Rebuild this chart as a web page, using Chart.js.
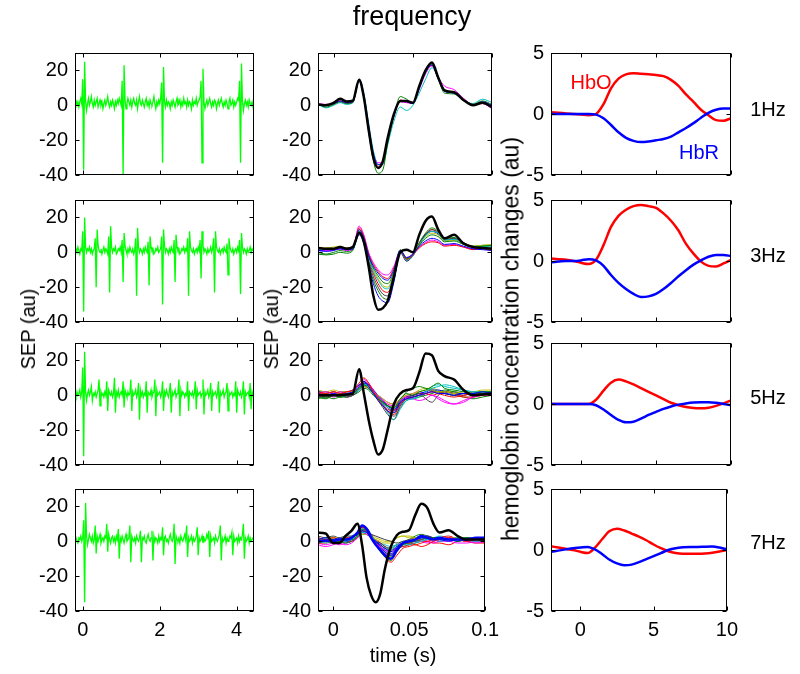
<!DOCTYPE html>
<html>
<head>
<meta charset="utf-8">
<script src="https://cdn.jsdelivr.net/npm/chart.js@4.4.0/dist/chart.umd.min.js"></script>
<style>
  body { margin: 0; background: #fff; font-family: "Liberation Sans", Arial, sans-serif; }
  #fig { position: relative; width: 800px; height: 674px; overflow: hidden; background: #fff; }
  .pan { position: absolute; }
  .txt { position: absolute; white-space: nowrap; color: #000; line-height: 1; }
</style>
</head>
<body>
<div id="fig"></div>
<script>
"use strict";

// ---- raw SEP recordings (first column), one sample every 25 ms from -0.2 s ----
var rawStart = -0.2, rawStep = 0.025;
var raw1Hz = [
  1, 3, 0, 2, -1, 2, 4, 1, 15, -37,
  25, 2, -3, 1, 4, 0, 2, 5, 1, -1,
  3, 0, 2, 4, -1, 1, 3, 0, 2, -2,
  1, 3, 0, 2, 5, 1, -1, 2, 0, 3,
  1, -2, 2, 0, 3, 1, 4, 2, 0, 14,
  -40, 23, 3, -2, 1, 4, 2, 0, 3, -1,
  2, 4, 1, 0, 3, -2, 2, 5, 1, 0,
  3, 1, -1, 2, 4, 0, 2, -1, 3, 1,
  0, 2, 5, 1, -2, 2, 0, 3, 1, 4,
  13, -33, 22, 2, -1, 3, 0, 2, 1, -2,
  2, 0, 3, 1, -1, 2, 4, 0, 1, 3,
  -1, 2, 0, 4, 1, 2, -1, 3, 0, 2,
  1, -2, 3, 0, 2, 1, 4, 0, 2, 3,
  5, 14, -33, 21, 2, -2, 1, 3, 0, 2,
  4, 1, -1, 2, 0, 3, 2, -2, 1, 3,
  0, 2, 4, 1, -1, 2, 0, 3, 1, -2,
  2, 4, 0, 1, 3, -1, 2, 0, 2, 4,
  3, 14, -33, 24, 2, -3, 1, 3, 0, 2,
  -1, 3, 1, 0, 2, -1, 1
];
var raw3Hz = [
  1, 2, 0, 3, 1, -1, 2, 1, 12, -34,
  20, 3, 0, 2, 1, 3, 0, 2, -1, 1,
  2, 8, -20, 13, 4, 1, 0, 2, -1, 1,
  3, 0, 2, 1, -1, 9, -23, 15, 3, 0,
  2, 1, 3, -1, 0, 2, 1, 3, 0, 7,
  -17, 11, 4, 1, -1, 2, 0, 3, 1, 0,
  2, -1, 1, 8, -25, 14, 3, 0, 2, 1,
  -1, 2, 0, 3, 1, 0, 6, -19, 9, 3,
  1, 2, -1, 0, 2, 1, 3, 0, 1, 2,
  9, -30, 13, 4, 0, 2, 1, -1, 2, 0,
  3, 1, 0, 7, -17, 10, 3, 1, 2, -1,
  0, 2, 1, 3, 0, 2, 1, 8, -25, 12,
  3, 1, 0, 2, -1, 1, 2, 0, 3, 1,
  7, -15, 12, 4, 0, 2, 1, -1, 2, 0,
  1, 3, 0, 2, 8, -23, 12, 3, 1, 0,
  2, -1, 1, 2, 0, 3, 1, 0, 5, -13,
  8, 3, 1, 0, 2, -1, 1, 2, 0, 3,
  1, 7, -24, 11, 3, 0, 2, 1, -1, 2,
  0, 1, 3, 0, 2, 1, 0
];
var raw5Hz = [
  1, -1, 2, 0, 1, 3, -1, 2, 16, -35,
  25, 2, -3, 1, 3, 0, 2, 5, -3, 1,
  0, 2, -1, 1, 3, 9, -6, 2, 0, 1,
  -1, 2, 0, 8, -9, 3, 1, 0, 2, -1,
  1, 10, -10, 2, 0, 3, -1, 1, 2, 0,
  8, -7, 3, 1, -1, 2, 0, 1, 9, -9,
  2, 0, 1, 3, -1, 1, 7, -14, 3, 0,
  2, -1, 1, 0, 8, -10, 2, 1, 0, 3,
  -1, 1, 2, 9, -12, 3, 0, 1, 2, -1,
  1, 8, -9, 2, 0, 3, 1, -1, 2, 7,
  -10, 2, 0, 1, 3, -1, 1, 2, 9, -12,
  3, 0, 2, 1, -1, 1, 0, 8, -9, 2,
  1, 0, 2, -1, 1, 8, -8, 3, 0, 1,
  2, -1, 1, 9, -11, 2, 0, 1, 3, -1,
  1, 7, -9, 2, 0, 1, 2, -1, 1, 8,
  -10, 2, 0, 1, 3, -1, 1, 2, 7, -9,
  2, 0, 1, 2, -1, 1, 0, 8, -10, 3,
  1, 0, 2, -1, 1, 8, -11, 2, 0, 1,
  2, -1, 7, -8, 2, 0, 1
];
var raw7Hz = [
  1, 2, 0, -1, 2, 1, 3, 0, 2, 12,
  -35, 22, 3, -2, 1, 4, 2, 0, 3, -1,
  1, 9, -7, 3, 0, 2, 4, -1, 1, 2,
  0, 3, 2, 10, -6, 4, 1, -1, 2, 3,
  0, 2, -1, 3, 1, 7, -10, 2, 0, 3,
  1, -1, 2, 4, 0, 1, 2, 9, -12, 3,
  1, 0, 2, -1, 3, 1, 0, 2, 6, -12,
  2, 1, 3, 0, -1, 2, 4, 1, 0, 2,
  6, -11, 3, 0, 2, 1, -1, 3, 0, 2,
  1, 8, -8, 2, 3, 0, 1, -1, 2, 4,
  1, 0, 2, 10, -13, 3, 1, 0, 2, -1,
  3, 1, 0, 2, 4, 1, 9, -9, 2, 0,
  1, 3, -1, 2, 0, 1, 3, 8, -8, 2,
  0, 1, 3, -1, 2, 0, 1, 4, 2, 6,
  -9, 3, 0, 1, 2, -1, 3, 1, 0, 2,
  4, 9, -11, 2, 0, 1, 3, -1, 2, 0,
  1, 3, 2, 5, -8, 3, 0, 1, 2, -1,
  3, 0, 2, 1, 4, 10, -10, 2, 0, 1,
  3, -1, 2, 0, 1, 2, 1
];

// ---- averaged SEPs (second column) ----
var sepTime = [-0.01, -0.005, 0, 0.004, 0.008, 0.012, 0.016, 0.019, 0.022, 0.025, 0.028, 0.031, 0.034,
               0.038, 0.042, 0.046, 0.050, 0.054, 0.058, 0.062, 0.066, 0.070, 0.076, 0.082, 0.088, 0.094, 0.1];

var avg1Black = [0.5, 0, 1.5, 3.7, 2.2, 2.7, 14.7, 4.5, -14, -30, -36, -32, -19, -5, 2.5, 2.5, 1.5, 11, 20, 24.5, 16, 8.5, 7.5, 3, 0, 1.5, -1];
var avg1Trials = [
  [0, 0, 1, 2.5, 1.5, 2, 14, 5, -12, -28, -34, -32, -20, -6, 2.5, 2, 1, 10, 19, 23, 15, 8, 7, 3, 0, 2, 0],
  [1, -1, 0.5, 2, 1, 1.5, 14, 4, -15, -32, -39, -37, -22, -6, 5, 3.5, 1, 10, 19, 23.5, 15, 7, 6.5, 2.5, 0.5, 2.5, 0.5],
  [0, 0.5, 1, 2.5, 1.5, 2, 14, 5, -13, -29, -35, -33, -20, -6, 3, 2, 1, 10, 19.5, 23, 15.5, 8, 7.5, 3, 0.5, 1, -0.5],
  [0.5, -1.5, 0, 1.5, 0.5, 1.5, 15, 7, -10, -26, -34, -34, -23, -9, -1, -3, 0, 7, 15, 21.5, 16, 9, 7, 3, 1, 3.5, 1.5],
  [1, 0.5, 1, 2, 1, 2, 14.5, 6, -11, -27, -33, -33, -21, -6, 2, 1.5, 1, 9, 18, 22.5, 16, 11, 9, 4, 0.5, 1, -2]
];

var avg3Black = [2.5, 2, 2, 3, 2, 3, 11, 6, -8, -25, -33, -32, -28, -14, 0, 1.5, 0, 10, 18, 20.5, 13, 8, 10, 5, 3, 2.5, 2];
var avg3Trials = [
  [1, 0.5, 1, 2, 1.5, 2, 13, 8, -2, -8, -12, -15, -16, -10, 1, -3, -1, 3.5, 6.5, 8, 7, 4.5, 5, 3.5, 2, 1.5, 1],
  [-1, -1.5, -1, 0, -0.5, 1, 12, 8, -2, -9, -13.5, -17, -18, -11, 1.5, -3.5, -1, 4, 8, 10, 9, 6, 6.5, 4.5, 3, 3.5, 4],
  [3, 2, 2, 3, 2, 2.5, 14, 9, -1, -7, -11, -14, -15, -9, 0.5, -4, -1.5, 2.5, 5, 6, 5.5, 3.5, 4, 3, 1.5, 2, 1],
  [2, 1.5, 2, 3, 2, 2.5, 12, 7, -3, -11, -16, -20, -21, -13, 0.5, -4.5, -2, 4, 9.5, 12, 11, 7, 7.5, 5, 3, 3.5, 3],
  [2, 1, 1.5, 2, 1, 2, 15, 10, 0, -6, -10, -12.5, -13, -8, 1, -3, -1, 3, 5.5, 7, 6, 4, 4.5, 3, 2, 2.5, 2],
  [3, 2.5, 3, 3.5, 2.5, 3, 13, 8, -3, -10, -15, -19, -20, -12, 1, -4, -1, 4.5, 9, 11, 10, 6.5, 7, 5, 3.5, 4, 4.5],
  [2.5, 2, 2, 3, 2.5, 3, 12, 6, -5, -14, -20, -24, -25, -15, 0, -5, -2, 5, 10, 13, 11, 7, 8, 5, 3, 3, 3],
  [1, 1, 1.5, 2, 1.5, 2, 10, 5, -7, -18, -25, -28, -29, -17, 0, -5, -2, 4.5, 10, 12, 10.5, 7, 7.5, 5, 3, 2.5, 2],
  [0, -1, 0, 1, 0.5, 1.5, 11, 6, -6, -16, -22, -26, -27, -16, 1, -4, -1, 5.5, 11, 14, 12, 8, 8.5, 5.5, 3.5, 4, 4],
  [1.5, 1, 1.5, 2.5, 2, 2.5, 13, 8, -4, -12, -18, -22, -23, -14, 1, -4, -1.5, 5, 10.5, 13, 11.5, 7.5, 8, 5.5, 3, 2.5, 2]
];

var avg5Black = [0, 0, 0, 0, 0.5, 1, 15, 1, -14, -26, -34, -31, -20, -5, 1, 3, 4, 13, 24, 23, 14, 11, 9, 3, 0, 0.5, 1];
var avg5Trials = [
  [1, 0, 1, 0, 1, 2, 5, 8, 5, 1, -3, -6, -9, -10, -4, -2, -1, 0, 1, 2, 1, 1, 0, 1, 1, 2, 1],
  [-1, -2, 0, -1, 0, 1, 4, 6, 4, 1, -2, -4, -6, -7, -2, 1, 0, 2, 3, 5, 7, 4, 3, 2, 1, 2, 2],
  [2, 1, 2, 1, 2, 3, 7, 10, 7, 2, -2, -6, -9, -11, -5, -2, -1, 0, 1, 2, 1, 0, -1, 0, 1, 0, 1],
  [0, 1, 0, 1, 0, 1, 3, 6, 5, 1, -2, -5, -10, -14, -8, -3, -2, -1, 2, 4, 5, 6, 5, 3, 2, 2, 2],
  [1, 2, 1, 2, 1, 2, 5, 9, 7, 3, -1, -3, -5, -6, -3, -1, -2, -3, -2, 0, -2, -4, -5, -3, -1, 0, 1],
  [3, 2, 3, 2, 2, 2, 4, 5, 4, 2, 0, -2, -4, -5, -2, 0, 1, 2, 3, 3, 2, 2, 1, 2, 2, 3, 3],
  [0, -1, 0, 0, -1, 0, 3, 5, 4, 1, -3, -7, -11, -14, -6, -2, 0, 1, -2, -4, 0, 2, 1, 0, 1, 1, 0],
  [2, 2, 1, 2, 2, 3, 6, 7, 6, 3, 0, -3, -6, -8, -4, -1, 0, 1, 2, 3, 3, 2, 1, 1, 2, 1, 2],
  [-2, -1, -2, -1, -1, 0, 2, 4, 3, 0, -2, -4, -6, -8, -3, 2, 4, 5, 4, 3, 2, 3, 2, 1, 2, 2, 1],
  [1, 1, 2, 1, 2, 3, 6, 8, 6, 2, -1, -5, -8, -9, -4, -1, 0, 1, 1, 0, 1, 2, 1, -1, -1, 0, 1],
  [2, 1, 2, 1, 1, 2, 4, 6, 6, 3, 0, -4, -7, -10, -6, -3, -2, 0, 2, 5, 6, 5, 4, 3, 2, 1, 1],
  [-1, 0, -1, 0, -1, 0, 3, 5, 4, 2, 0, -2, -4, -5, -2, 0, 1, 2, 1, 0, -1, -3, -5, -4, -1, 0, 0],
  [1, 2, 1, 1, 2, 2, 5, 7, 5, 2, -1, -3, -5, -6, -2, 0, 1, 3, 4, 4, 3, 2, 2, 1, 2, 2, 2],
  [0, 1, 0, 1, 0, 1, 4, 6, 5, 2, -2, -5, -9, -12, -7, -3, -1, 0, 1, 2, 2, 1, 0, 1, 0, 1, 1],
  [1, 0, 1, 1, 0, 1, 4, 7, 6, 3, -1, -4, -7, -9, -5, -2, -1, 0, 2, 3, 2, 1, 2, 1, 1, 2, 2],
  [0, -1, 0, -1, 0, 1, 3, 6, 5, 2, -1, -4, -6, -7, -3, -1, -2, -1, 0, 1, 2, 1, 0, -1, -2, -1, 0]
];

var avg7Black = [5, 4.5, -1, -1, 3, 6, 10, -2, -21, -31, -35, -30, -16, -3, 3.6, 5.5, 6.5, 15, 21.5, 19, 10, 5, 6.4, 3, 1, 1, 1];
var avg7Mean = [0, 0.5, 0, 1, 1, 2, 5, 9, 7, 2, -2, -5, -8, -10, -5, -1, 0, 1, 3, 2, 1, 2, 1, 1, 1, 2, 2];
var avg7Trials = [
  [1, 2, 1, 2, 1, 2, 4, 6, 5, 2, 0, -2, -4, -6, -3, -1, 0, 1, 2, 2, 1, 1, 0, 1, 1, 1, 2],
  [-1, 0, -1, 0, -1, 0, 3, 7, 6, 2, -2, -6, -9, -11, -6, -2, -1, 0, 1, 2, 2, 1, 1, 0, 1, 1, 1],
  [2, 1, 2, 1, 2, 2, 5, 8, 6, 2, -1, -5, -9, -12, -8, -4, -3, -2, -3, -2, 0, 1, 2, 1, 0, 1, 1],
  [0, -1, 0, -1, 0, 1, 3, 5, 5, 3, 0, -2, -4, -5, -3, -2, -2, -1, 0, 1, 1, 0, 1, 2, 1, 0, 1],
  [-2, -3, -2, -1, -2, -1, 2, 5, 4, 2, -1, -3, -5, -6, -3, -1, 0, 1, 0, -1, 0, 1, 2, 1, 0, -1, 0],
  [2, 1, 2, 2, 1, 2, 3, 4, 4, 3, 1, 0, -1, -1, 2, 3, 2, 2, 3, 2, 1, 1, 2, 2, 1, 1, 2],
  [3, 2, 3, 2, 3, 3, 4, 5, 5, 4, 3, 2, 1, 0, -1, 0, 1, 2, 3, 3, 2, 2, 1, 2, 1, 2, 2],
  [0, 1, 0, 1, 0, 1, 5, 9, 8, 4, 0, -3, -6, -8, -4, -1, 0, 1, 2, 3, 2, 1, 1, 0, 1, 1, 0],
  [1, 0, 1, 1, 0, 1, 3, 6, 5, 2, -1, -3, -6, -8, -4, -1, 1, 3, 4, 3, 2, 2, 1, 2, 2, 1, 1],
  [-1, -1, 0, -1, 0, 0, 2, 5, 5, 3, 0, -2, -4, -5, -3, -2, -1, -2, -1, 0, 1, 2, 3, 1, 0, -1, -1],
  [1, 2, 1, 2, 2, 3, 5, 7, 6, 3, 0, -2, -4, -4, -2, 0, 0, 1, 2, 1, 1, 1, 2, 2, 1, 2, 1],
  [-1, -2, -1, -2, -1, 0, 3, 6, 5, 2, -1, -4, -7, -8, -4, -1, -1, 0, 1, 0, -1, 0, 0, -1, -1, 0, -1],
  [1, 2, 2, 1, 2, 2, 3, 5, 5, 4, 2, 1, 0, 0, 2, 3, 3, 2, 1, 2, 2, 1, 2, 1, 0, 1, 1],
  [2, 1, 2, 1, 2, 2, 4, 5, 4, 2, 0, -1, -3, -4, -2, -1, 0, 1, 1, 2, 1, 2, 1, 1, 2, 1, 1],
  [1, 0, 1, 0, 1, 2, 4, 7, 6, 3, 0, -3, -5, -7, -4, -1, 0, 0, 1, 2, 1, 0, 1, 1, 2, 2, 2],
  [0, 1, 0, 1, 1, 1, 4, 8, 7, 3, -1, -4, -7, -9, -5, -2, 0, 1, 2, 1, 1, 2, 1, 2, 1, 1, 2],
  [1, 0, 1, 0, 0, 1, 3, 6, 6, 3, 1, -1, -3, -5, -4, -3, -2, -1, 0, 0, -1, -1, -2, 0, 1, 1, 0],
  [-1, 0, -1, 0, -1, 0, 2, 4, 4, 2, 0, -1, -2, -3, -2, -3, -2, -1, 0, 1, 2, 3, 2, 1, 0, 0, 1]
];

// ---- hemoglobin responses (third column) ----
var hbTime = [-2, -1.5, -1, -0.5, 0, 0.5, 1, 1.5, 2, 2.5, 3, 3.5, 4, 4.5, 5, 5.5, 6, 6.5, 7, 7.5, 8, 8.5, 9, 9.5, 10];
var hbo1 = [0.15, 0.1, 0.05, 0, -0.05, -0.1, 0, 0.8, 2.1, 2.9, 3.25, 3.35, 3.3, 3.25, 3.2, 3.1, 2.8, 2.3, 1.6, 1.0, 0.35, -0.1, -0.5, -0.55, -0.35];
var hbr1 = [0, 0, 0, 0, 0, 0, -0.05, -0.35, -0.9, -1.5, -1.95, -2.2, -2.3, -2.25, -2.15, -2.05, -1.85, -1.5, -1.15, -0.75, -0.3, 0.1, 0.35, 0.45, 0.45];
var hbo3 = [0.2, 0.15, 0.1, 0, -0.15, -0.25, 0.1, 1.3, 2.8, 3.7, 4.2, 4.5, 4.6, 4.5, 4.35, 3.9, 3.3, 2.5, 1.4, 0.6, -0.05, -0.4, -0.45, -0.2, 0.1];
var hbr3 = [-0.1, -0.05, 0, 0, 0.05, 0.15, 0.05, -0.4, -1.15, -1.8, -2.3, -2.7, -2.95, -2.9, -2.7, -2.3, -1.8, -1.25, -0.75, -0.3, 0.05, 0.35, 0.5, 0.5, 0.4];
var hbo5 = [0, 0, 0, 0, 0, 0, 0.35, 1.1, 1.75, 2.0, 1.85, 1.6, 1.3, 1.0, 0.7, 0.4, 0.1, -0.1, -0.25, -0.33, -0.35, -0.3, -0.15, 0.05, 0.3];
var hbr5 = [0, 0, 0, 0, 0, 0, -0.1, -0.45, -0.9, -1.3, -1.5, -1.45, -1.2, -0.9, -0.65, -0.4, -0.2, -0.05, 0.05, 0.12, 0.15, 0.15, 0.1, 0, -0.1];
var hbo7 = [0.3, 0.2, 0.1, 0, -0.15, -0.25, 0.2, 0.9, 1.55, 1.75, 1.6, 1.35, 1.1, 0.8, 0.45, 0.15, -0.1, -0.25, -0.3, -0.3, -0.3, -0.28, -0.22, -0.12, 0];
var hbr7 = [-0.15, -0.05, 0.05, 0.15, 0.2, 0.25, 0.05, -0.35, -0.8, -1.1, -1.25, -1.2, -1.0, -0.75, -0.5, -0.25, 0, 0.15, 0.22, 0.25, 0.25, 0.27, 0.28, 0.2, 0.05];

// ---- axes ----
var rawRange = [-0.2, 4.45], sepRange = [-0.01, 0.1], hbRange = [-2, 10];
var rawTicks = [0, 2, 4], sepTicks = [0, 0.05, 0.1], hbTicks = [0, 5, 10];
var sepY = [-40, 30], sepYTicks = [-40, -20, 0, 20];
var hbY = [-5, 5], hbYTicks = [-5, 0, 5];
var freqLabels = ["1Hz", "3Hz", "5Hz", "7Hz"];
var trialColors = ["#0000ff", "#008000", "#ff0000", "#00c0c0", "#ff00ff", "#bfbf00", "#404040"];

// ---- layout (pixel boxes of the 4x3 axes) ----
var colLeft = [75, 318, 551], colRight = [254, 492, 731];
var rowTop = [48, 195, 338, 484], boxH = 127;
var PADL = 56, PADT = 14, PADR = 14, PADB = 44;
var FONT = '"Liberation Sans", Arial, sans-serif';
Chart.defaults.font.family = FONT;

var fig = document.getElementById("fig");

function pts(xs, ys) {
  return ys.map(function(v, i) { return { x: xs[i], y: v }; });
}
function rawTimes(n) {
  var t = [];
  for (var i = 0; i < n; i++) t.push(rawStart + i * rawStep);
  return t;
}
function line(xs, ys, color, width, smooth) {
  return {
    data: pts(xs, ys), borderColor: color, borderWidth: width, pointRadius: 0,
    fill: false, clip: 0, tension: 0, cubicInterpolationMode: smooth ? "monotone" : "default"
  };
}

// frame with inward ticks on all four sides, like matlab "box on"
var boxPlugin = {
  id: "box",
  afterDatasetsDraw: function(chart) {
    var a = chart.chartArea, c = chart.ctx, xs = chart.scales.x, ys = chart.scales.y;
    var L = Math.round(a.left) + 0.5, R = Math.round(a.right) - 0.5;
    var T = Math.round(a.top) + 0.5, B = Math.round(a.bottom) - 0.5;
    c.save();
    c.strokeStyle = "#000";
    c.lineWidth = 1;
    c.beginPath();
    xs.ticks.forEach(function(t) {
      var p = Math.round(xs.getPixelForValue(t.value)) + 0.5;
      c.moveTo(p, B); c.lineTo(p, B - 4);
      c.moveTo(p, T); c.lineTo(p, T + 4);
    });
    ys.ticks.forEach(function(t) {
      var p = Math.round(ys.getPixelForValue(t.value)) + 0.5;
      c.moveTo(L, p); c.lineTo(L + 4, p);
      c.moveTo(R, p); c.lineTo(R - 4, p);
    });
    c.stroke();
    c.strokeRect(L, T, R - L, B - T);
    c.restore();
  }
};

var notesPlugin = {
  id: "notes",
  afterDatasetsDraw: function(chart, args, opts) {
    var c = chart.ctx;
    (opts.items || []).forEach(function(n) {
      c.save();
      c.font = "20px " + FONT;
      c.fillStyle = n.color;
      c.textAlign = "center";
      c.textBaseline = "middle";
      c.fillText(n.text, chart.scales.x.getPixelForValue(n.x), chart.scales.y.getPixelForValue(n.y));
      c.restore();
    });
  }
};

function panel(col, row, datasets, xr, xt, yr, yt, notes) {
  var w = colRight[col] - colLeft[col];
  var cv = document.createElement("canvas");
  cv.className = "pan";
  cv.width = w + PADL + PADR;
  cv.height = boxH + PADT + PADB;
  cv.style.left = (colLeft[col] - PADL) + "px";
  cv.style.top = (rowTop[row] - PADT) + "px";
  fig.appendChild(cv);
  var showX = row === 3;
  new Chart(cv, {
    type: "line",
    data: { datasets: datasets },
    options: {
      responsive: false, animation: false, events: [], devicePixelRatio: 1,
      layout: { padding: { left: 0, top: PADT, right: PADR, bottom: 0 } },
      plugins: { legend: { display: false }, tooltip: { enabled: false }, notes: { items: notes || [] } },
      scales: {
        x: {
          type: "linear", min: xr[0], max: xr[1],
          grid: { display: false, drawTicks: false }, border: { display: false },
          afterBuildTicks: function(s) { s.ticks = xt.map(function(v) { return { value: v }; }); },
          afterFit: function(s) { s.height = PADB; },
          ticks: { display: showX, color: "#000", font: { size: 20 }, padding: 7, maxRotation: 0,
                   autoSkip: false, callback: function(v) { return String(v); } }
        },
        y: {
          type: "linear", min: yr[0], max: yr[1],
          grid: { display: false, drawTicks: false }, border: { display: false },
          afterBuildTicks: function(s) { s.ticks = yt.map(function(v) { return { value: v }; }); },
          afterFit: function(s) { s.width = PADL; },
          ticks: { color: "#000", font: { size: 20 }, padding: 7, autoSkip: false,
                   callback: function(v) { return String(v); } }
        }
      }
    },
    plugins: [boxPlugin, notesPlugin]
  });
}

function text(str, cx, cy, size, rotate, color) {
  var d = document.createElement("div");
  d.className = "txt";
  d.textContent = str;
  d.style.fontSize = size + "px";
  d.style.left = cx + "px";
  d.style.top = cy + "px";
  d.style.color = color || "#000";
  d.style.transform = "translate(-50%,-50%)" + (rotate ? " rotate(-90deg)" : "");
  fig.appendChild(d);
}

// column 1: raw recordings
[raw1Hz, raw3Hz, raw5Hz, raw7Hz].forEach(function(r, row) {
  panel(0, row, [line(rawTimes(r.length), r, "#00ff00", 1.3, false)], rawRange, rawTicks, sepY, sepYTicks);
});

// column 2: averaged SEPs (black = first block, drawn on top)
var avgBlack = [avg1Black, avg3Black, avg5Black, avg7Black];
var avgTrials = [avg1Trials, avg3Trials, avg5Trials, avg7Trials];
avgBlack.forEach(function(b, row) {
  var ds = [line(sepTime, b, "#000000", 2.5, true)];
  if (row === 3) ds.push(line(sepTime, avg7Mean, "#0000ff", 2.5, true));
  avgTrials[row].forEach(function(tr, i) {
    ds.push(line(sepTime, tr, trialColors[i % trialColors.length], 1, true));
  });
  panel(1, row, ds, sepRange, sepTicks, sepY, sepYTicks);
});

// column 3: hemoglobin
var hbo = [hbo1, hbo3, hbo5, hbo7], hbr = [hbr1, hbr3, hbr5, hbr7];
hbo.forEach(function(o, row) {
  var notes = row === 0 ? [{ text: "HbO", x: 0.67, y: 2.5, color: "#ff0000" },
                           { text: "HbR", x: 7.87, y: -3.2, color: "#0000ff" }] : [];
  panel(2, row, [line(hbTime, hbr[row], "#0000ff", 2.5, true), line(hbTime, o, "#ff0000", 2.5, true)],
        hbRange, hbTicks, hbY, hbYTicks, notes);
});

// labels
text("frequency", 412, 16, 27);
text("SEP (au)", 28, 329, 20, true);
text("SEP (au)", 271, 329, 20, true);
text("hemoglobin concentration changes (au)", 511, 339, 23, true);
text("time (s)", 403, 655, 20);
var hzY = [109, 255, 397, 542];
freqLabels.forEach(function(f, i) { text(f, 768, hzY[i], 20); });
</script>
</body>
</html>
